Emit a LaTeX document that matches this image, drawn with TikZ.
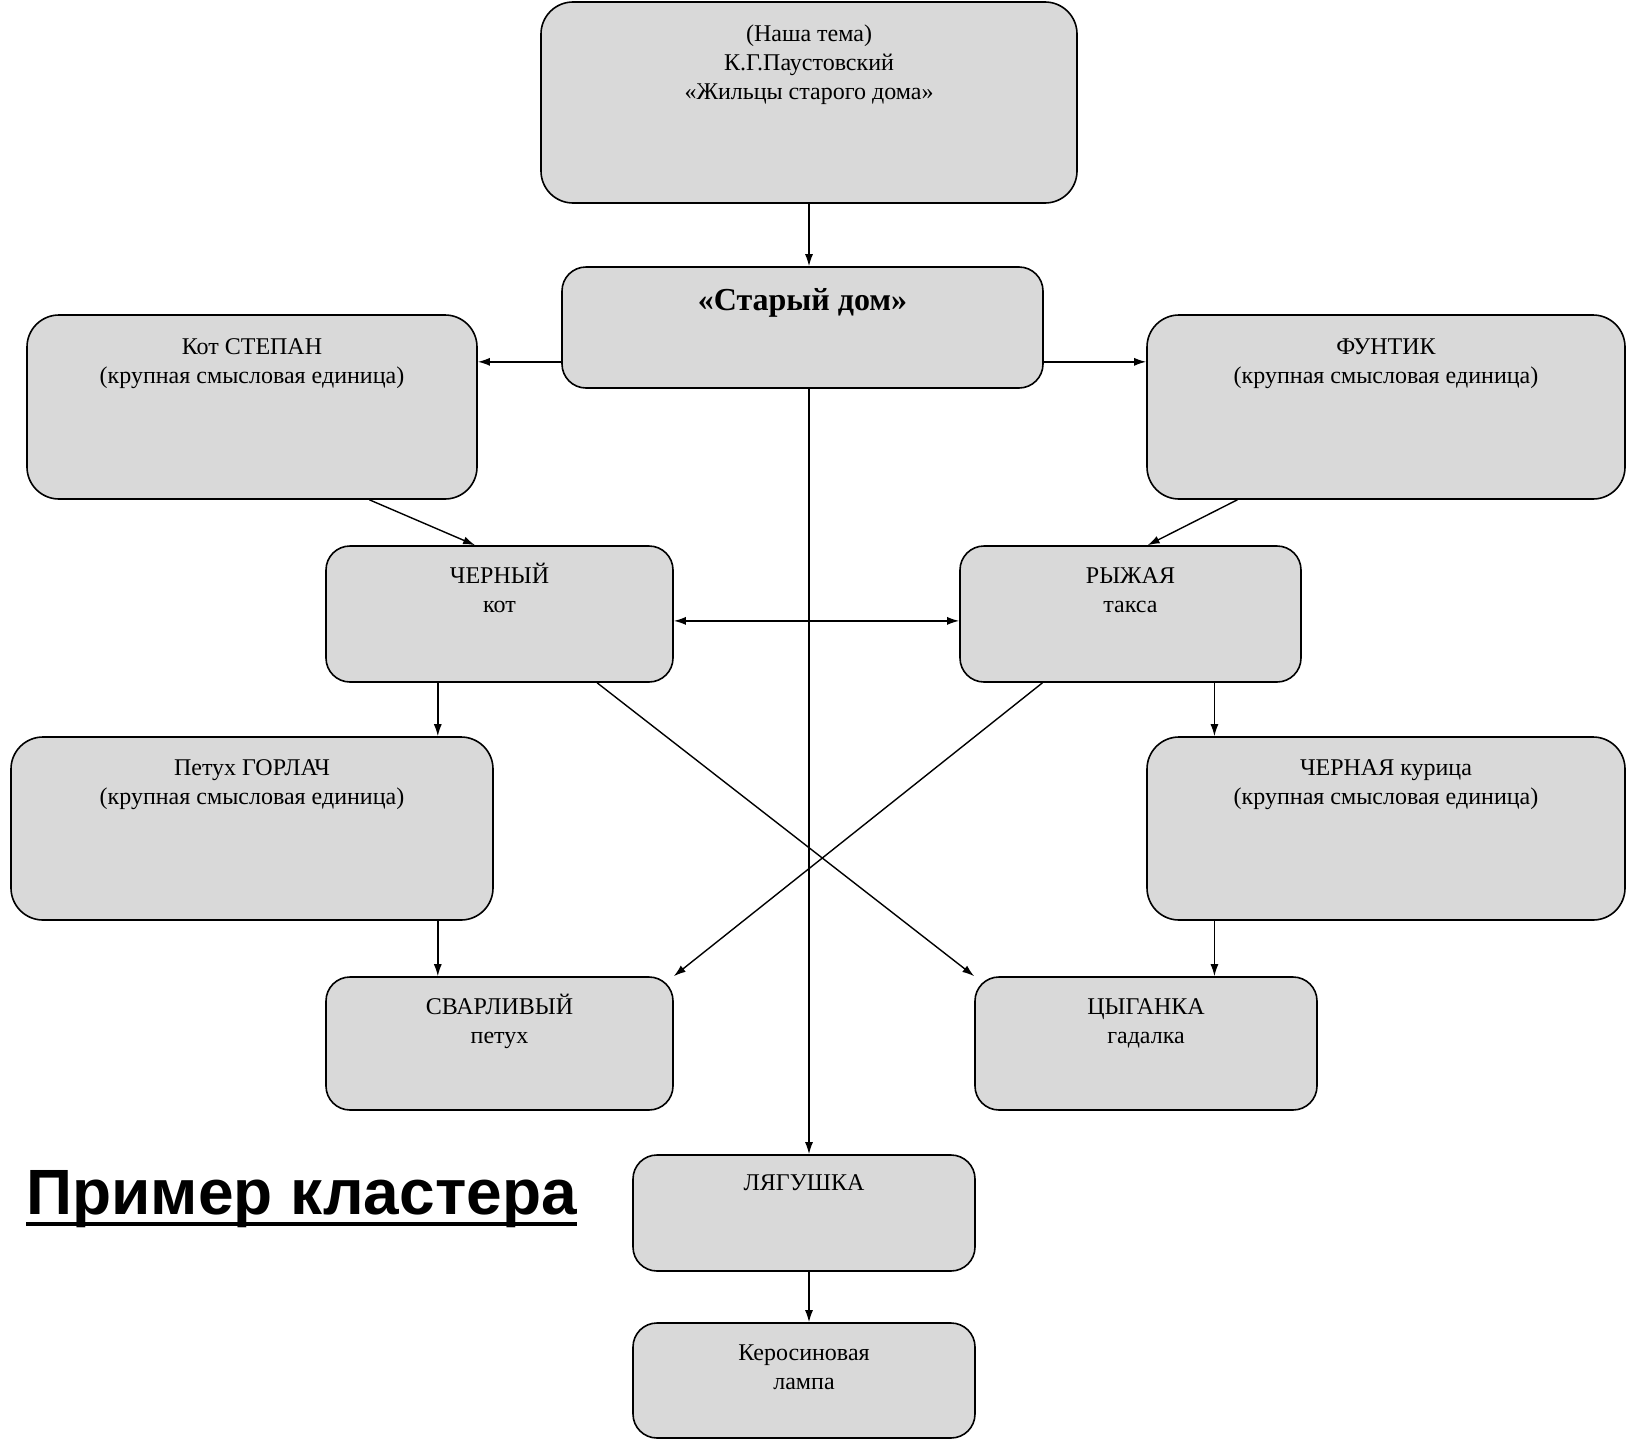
\documentclass[tikz,border=0pt]{standalone}
\usepackage{fontspec}
\setmainfont{Liberation Serif}
\newfontfamily\titlefont{Liberation Sans}
\usetikzlibrary{arrows.meta,calc}
\definecolor{cellgray}{HTML}{D9D9D9}
\newcommand\cellstrut{\rule{0pt}{24pt}}

\begin{document}
\begin{tikzpicture}[x=1pt,y=-1pt,
  cell/.style={draw=black, fill=cellgray, line width=1.6pt, inner sep=0pt},
  bigcell/.style={cell, rounded corners=32pt},
  smallcell/.style={cell, rounded corners=24pt},
  celltext/.style={anchor=north, align=center, inner sep=0pt, yshift=-16pt,
    font=\fontsize{24pt}{29pt}\selectfont},
  link/.style={line width=1.4pt, -{Latex[length=12pt,width=8pt]}}]

\useasboundingbox (0,0) rectangle (1627,1440);

% Theme
\node[bigcell, minimum width=536pt, minimum height=201pt,
  label={[celltext]north:{\cellstrut(Наша тема)\\К.Г.Паустовский\\«Жильцы старого дома»}}] (theme) at (809,102.5) {};

% Old house
\node[smallcell, minimum width=481pt, minimum height=121pt,
  label={[celltext, yshift=-4.5pt, font=\bfseries\fontsize{32pt}{36pt}\selectfont]north:{\cellstrut«Старый дом»}}] (house) at (802.5,327.5) {};

% Large units
\node[bigcell, minimum width=450pt, minimum height=184pt,
  label={[celltext]north:{\cellstrut Кот СТЕПАН\\(крупная смысловая единица)}}] (stepan) at (252,407) {};
\node[bigcell, minimum width=478pt, minimum height=184pt,
  label={[celltext]north:{\cellstrut ФУНТИК\\(крупная смысловая единица)}}] (funtik) at (1386,407) {};
\node[bigcell, minimum width=482pt, minimum height=183pt,
  label={[celltext, yshift=1pt]north:{\cellstrut Петух ГОРЛАЧ\\(крупная смысловая единица)}}] (gorlach) at (252,828.5) {};
\node[bigcell, minimum width=478pt, minimum height=183pt,
  label={[celltext, yshift=1pt]north:{\cellstrut ЧЕРНАЯ курица\\(крупная смысловая единица)}}] (hen) at (1386,828.5) {};

% Small units
\node[smallcell, minimum width=347pt, minimum height=136pt,
  label={[celltext, yshift=2pt]north:{\cellstrut ЧЕРНЫЙ\\кот}}] (blackcat) at (499.5,614) {};
\node[smallcell, minimum width=341pt, minimum height=136pt,
  label={[celltext, yshift=2pt]north:{\cellstrut РЫЖАЯ\\такса}}] (dachshund) at (1130.5,614) {};
\node[smallcell, minimum width=347pt, minimum height=133pt,
  label={[celltext, yshift=1.5pt]north:{\cellstrut СВАРЛИВЫЙ\\петух}}] (rooster) at (499.5,1043.5) {};
\node[smallcell, minimum width=342pt, minimum height=133pt,
  label={[celltext, yshift=1.5pt]north:{\cellstrut ЦЫГАНКА\\гадалка}}] (gypsy) at (1146,1043.5) {};
\node[smallcell, minimum width=342pt, minimum height=116pt,
  label={[celltext, yshift=4pt]north:{\cellstrut ЛЯГУШКА}}] (frog) at (804,1213) {};
\node[smallcell, minimum width=342pt, minimum height=115pt,
  label={[celltext, yshift=2pt]north:{\cellstrut Керосиновая\\лампа}}] (lamp) at (804,1380.5) {};

% Title
\node[anchor=base west, inner sep=0pt, font=\titlefont\bfseries\fontsize{64pt}{70pt}\selectfont] (title) at (26,1214) {Пример кластера};
\draw[line width=4.5pt] ($(title.base west)+(0,10)$) -- ($(title.base east)+(0,10)$);

% Links
\draw[link] (theme.south) -- (theme.south |- house.north);
\draw[link] ($(house.north west)!0.78!(house.south west)$) coordinate (hl) -- (hl -| stepan.east);
\draw[link] ($(house.north east)!0.78!(house.south east)$) coordinate (hr) -- (hr -| funtik.west);
\draw[link] (theme.south |- house.south) -- (theme.south |- frog.north);
\draw[link] (theme.south |- frog.south) -- (theme.south |- lamp.north);
\draw[link] ($(stepan.south west)!0.76!(stepan.south east)$) -- ($(blackcat.north west)!0.43!(blackcat.north east)$);
\draw[link] ($(funtik.south west)!0.19!(funtik.south east)$) -- ($(dachshund.north west)!0.55!(dachshund.north east)$);
\draw[link, {Latex[length=12pt,width=8pt]}-{Latex[length=12pt,width=8pt]}] ($(blackcat.north east)!0.55!(blackcat.south east)$) coordinate (bm) -- (bm -| dachshund.west);
\draw[link] ($(blackcat.south west)!0.323!(blackcat.south east)$) coordinate (bl) -- (bl |- gorlach.north);
\draw[link] (bl |- gorlach.south) -- (bl |- rooster.north);
\draw[link] ($(blackcat.south west)!0.78!(blackcat.south east)$) -- (gypsy.north west);
\draw[link] ($(dachshund.south west)!0.243!(dachshund.south east)$) -- (rooster.north east);
\draw[link] ($(dachshund.south west)!0.745!(dachshund.south east)$) coordinate (dr) -- (dr |- hen.north);
\draw[link] (dr |- hen.south) -- (dr |- gypsy.north);

\end{tikzpicture}
\end{document}
